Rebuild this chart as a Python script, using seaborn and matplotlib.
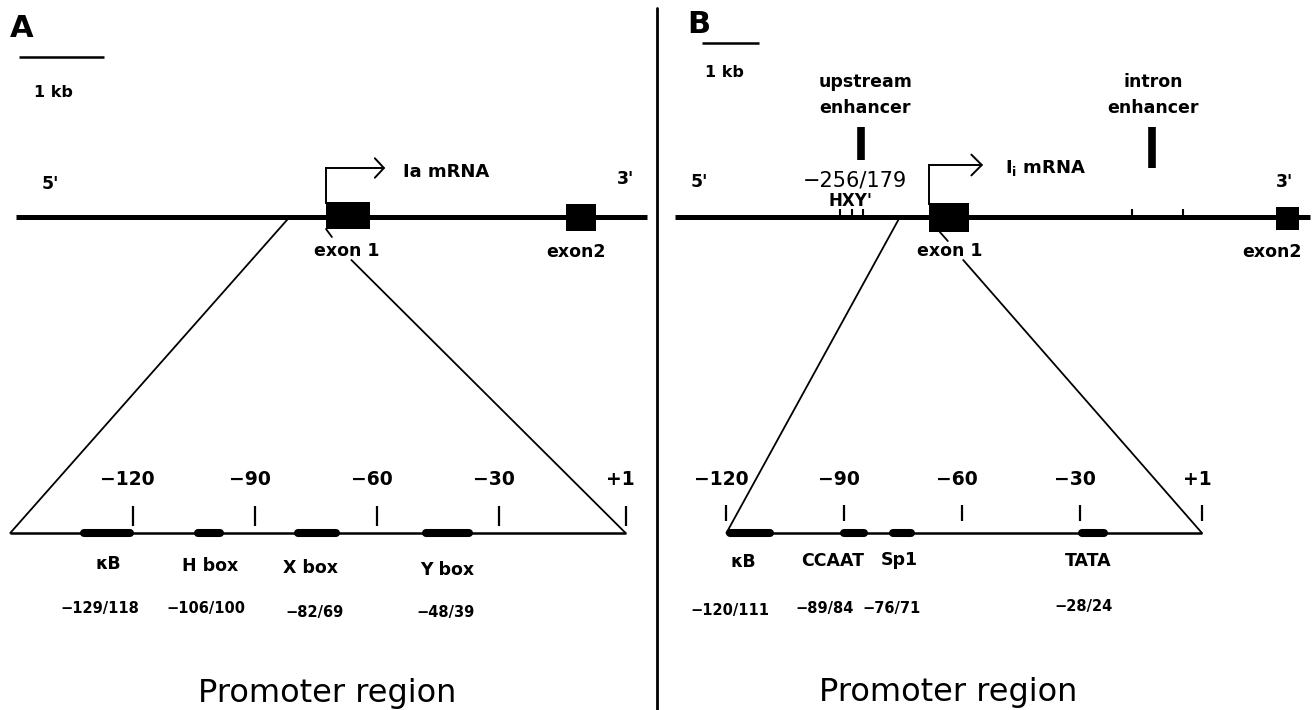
import numpy as np
import matplotlib
matplotlib.use("Agg")
import matplotlib.pyplot as plt
import seaborn as sns
from matplotlib.patches import ConnectionPatch
from matplotlib.transforms import offset_copy

# ======================= DATA =======================
# Panel A - Ia gene map (kb, relative to start of exon 1)
a_map_span = [-3.66, 3.80]
a_exon_labels = ["exon 1", "exon2"]
a_exon_start = [0.00, 2.84]
a_exon_end = [0.52, 3.19]
a_scalebar_kb = [-3.63, -2.63]
a_zoom_from = [-0.43, 0.30]
a_mrna_end = 0.70

# Panel A - promoter (bp)
a_prom_span = [-150, 1]
a_elem_names = ["κB", "H box", "X box", "Y box"]
a_elem_ranges = ["−129/118", "−106/100", "−82/69", "−48/39"]
a_elem_start = [-132.0, -104.0, -79.5, -48.0]
a_elem_end = [-120.5, -98.5, -70.0, -37.5]

# Panel B - Ii gene map (kb, relative to start of exon 1)
b_map_span = [-4.46, 6.68]
b_exon_labels = ["exon 1", "exon2"]
b_exon_start = [0.00, 6.09]
b_exon_end = [0.70, 6.49]
b_scalebar_kb = [-3.98, -2.98]
b_zoom_from = [-0.51, 0.60]
b_mrna_end = 0.95
b_enh_names = ["upstream\nenhancer", "intron\nenhancer"]
b_enh_pos = [-1.19, 3.92]
b_hxy_sites = [-1.56, -1.35, -1.16]
b_intron_sites = [3.56, 4.46]

# Panel B - promoter (bp)
b_prom_span = [-120, 1]
b_elem_names = ["κB", "CCAAT", "Sp1", "TATA"]
b_elem_ranges = ["−120/111", "−89/84", "−76/71", "−28/24"]
b_elem_start = [-119.0, -90.0, -77.5, -29.5]
b_elem_end = [-109.0, -85.0, -73.0, -24.0]

prom_ticks = [-120, -90, -60, -30, 1]
prom_tick_labels = ["−120", "−90", "−60", "−30", "+1"]

# ======================= STYLE / LAYOUT =======================
sns.set_theme(style="white")
plt.rcParams["font.family"] = ["DejaVu Sans"]
plt.rcParams["mathtext.fontset"] = "dejavusans"

W, H = 1312, 710
fig = plt.figure(figsize=(W / 100, H / 100), dpi=100)
fig.patch.set_facecolor("white")

canvas = fig.add_axes([0, 0, 1, 1])
canvas.set_xlim(0, W)
canvas.set_ylim(H, 0)
canvas.axis("off")


def panel_axes(px_left, px_right, origin_px, px_per_unit):
    ax = fig.add_axes([px_left / W, 0, (px_right - px_left) / W, 1])
    ax.set_xlim((px_left - origin_px) / px_per_unit,
                (px_right - origin_px) / px_per_unit)
    ax.set_ylim(H, 0)
    ax.axis("off")
    ax.patch.set_alpha(0)
    return ax


gA = panel_axes(0, 656, 326, 84.6)
pA = panel_axes(0, 656, 621.5, 4.075)
gB = panel_axes(660, 1312, 929, 57.0)
pB = panel_axes(660, 1312, 1198, 3.93)

K = "black"
BOLD = dict(color=K, fontweight="bold")


def shifted(ax, dx):
    return offset_copy(ax.transData, fig=fig, x=dx, y=0, units="dots")


def draw_map(ax, span, ex_s, ex_e, ex_top, ex_h, ex_lab, ex_dx, ex_base,
             scalebar, sb_y, mrna_end, arrow_y, arrow_head):
    ax.plot(span, [217, 217], color=K, lw=3.6, solid_capstyle="butt", zorder=2)
    widths = np.subtract(ex_e, ex_s)
    ax.bar(ex_s, ex_h, width=widths, bottom=ex_top, align="edge",
           color=K, linewidth=0, zorder=3)
    for s, e, lab, dx, base in zip(ex_s, ex_e, ex_lab, ex_dx, ex_base):
        ax.text((s + e) / 2, base, lab, ha="center", va="baseline",
                fontsize=12.5, transform=shifted(ax, dx), **BOLD)
    # scale bar
    ax.plot(scalebar, [sb_y, sb_y], color=K, lw=1.8, solid_capstyle="butt")
    # transcription start arrow
    ax.plot([ex_s[0], ex_s[0]], [ex_top[0] + 1, arrow_y], color=K, lw=1.4,
            solid_capstyle="projecting")
    ax.annotate("", xy=(mrna_end, arrow_y), xytext=(ex_s[0], arrow_y),
                arrowprops=dict(arrowstyle="->,head_length=%s,head_width=%s" % arrow_head,
                                lw=1.4, color=K, shrinkA=0, shrinkB=0,
                                mutation_scale=10))


def draw_promoter(ax, span, e_s, e_e, names, ranges, tick_y, lab_dx, rng_dx,
                  lab_base, rng_base):
    y = 533
    ax.plot(span, [y, y], color=K, lw=1.8, solid_capstyle="butt", zorder=2)
    for s, e in zip(e_s, e_e):
        ax.plot([s, e], [y, y], color=K, lw=5.8, solid_capstyle="round", zorder=3)
    ax.vlines(prom_ticks, tick_y[0], tick_y[1], color=K, lw=1.6)
    for t, lab in zip(prom_ticks, prom_tick_labels):
        ax.text(t, 485, lab, ha="center", va="baseline", fontsize=13.5,
                transform=shifted(ax, -5), **BOLD)
    for s, e, nm, rg, dx1, dx2, b1, b2 in zip(e_s, e_e, names, ranges,
                                              lab_dx, rng_dx, lab_base, rng_base):
        c = (s + e) / 2
        ax.text(c, b1, nm, ha="center", va="baseline", fontsize=12.5,
                transform=shifted(ax, dx1), **BOLD)
        ax.text(c, b2, rg, ha="center", va="baseline", fontsize=10.5,
                transform=shifted(ax, dx2), **BOLD)


# ---------------- Panel A ----------------
draw_map(gA, a_map_span, a_exon_start, a_exon_end, [202, 204], [27, 27],
         a_exon_labels, [-1, -5], [256, 257], a_scalebar_kb, 57,
         a_mrna_end, 168, ("0.65", "0.7"))
gA.plot([a_exon_start[0], a_exon_start[0] + 0.07], [229, 237], color=K, lw=1.3)
draw_promoter(pA, a_prom_span, a_elem_start, a_elem_end, a_elem_names,
              a_elem_ranges, (506, 526), [1.5, 1, -6, 0], [-7.5, -3, -2, -1.5],
              [569, 571, 573, 575], [613, 613, 617, 617])

# ---------------- Panel B ----------------
draw_map(gB, b_map_span, b_exon_start, b_exon_end, [203, 207], [29, 23],
         b_exon_labels, [1, -16], [256, 257], b_scalebar_kb, 43,
         b_mrna_end, 165, ("0.75", "0.75"))
gB.plot([0.19, 0.33], [232, 241], color=K, lw=1.3)
gB.vlines(b_enh_pos, [127, 127], [160, 168], color=K, lw=5.5)
gB.vlines(b_hxy_sites, 209, 217, color=K, lw=1.5)
gB.vlines(b_intron_sites, 209, 217, color=K, lw=1.5)
for pos, name, dx in zip(b_enh_pos, b_enh_names, [4, 1]):
    l1, l2 = name.split("\n")
    gB.text(pos, 87, l1, ha="center", va="baseline", fontsize=12.5,
            transform=shifted(gB, dx), **BOLD)
    gB.text(pos, 113, l2, ha="center", va="baseline", fontsize=12.5,
            transform=shifted(gB, dx), **BOLD)
draw_promoter(pB, b_prom_span, b_elem_start, b_elem_end, b_elem_names,
              b_elem_ranges, (505, 521), [-7, -21, -3, -5], [-20, -30, -11, -9],
              [567, 566, 565, 566], [615, 613, 613, 611])

# ---------------- zoom-out connector lines ----------------
for g, p, zf, ps, y_right in [(gA, pA, a_zoom_from, a_prom_span, 260),
                              (gB, pB, b_zoom_from, b_prom_span, 260)]:
    for xa, ya, xb in [(zf[0], 217, ps[0]), (zf[1], y_right, ps[1])]:
        con = ConnectionPatch(xyA=(xa, ya), coordsA=g.transData,
                              xyB=(xb, 533), coordsB=p.transData,
                              color=K, lw=1.3)
        fig.add_artist(con)

# ---------------- free text ----------------
canvas.plot([657, 657], [8, H], color=K, lw=2.0)
canvas.text(10, 37, "A", fontsize=22, ha="left", va="baseline", **BOLD)
canvas.text(687, 33, "B", fontsize=22, ha="left", va="baseline", **BOLD)
canvas.text(34, 97, "1 kb", fontsize=11.5, ha="left", va="baseline", **BOLD)
canvas.text(705, 77, "1 kb", fontsize=11.5, ha="left", va="baseline", **BOLD)
canvas.text(42, 189, "5'", fontsize=12.5, ha="left", va="baseline", **BOLD)
canvas.text(617, 184, "3'", fontsize=12.5, ha="left", va="baseline", **BOLD)
canvas.text(691, 187, "5'", fontsize=12.5, ha="left", va="baseline", **BOLD)
canvas.text(1276, 187, "3'", fontsize=12.5, ha="left", va="baseline", **BOLD)
canvas.text(403, 177, "Ia mRNA", fontsize=13, ha="left", va="baseline", **BOLD)
canvas.text(1005, 173, r"I$_{\mathbf{i}}$ mRNA", fontsize=13, ha="left",
            va="baseline", **BOLD)
canvas.text(855, 187, "−256/179", fontsize=15, ha="center", va="baseline",
            color=K)
canvas.text(851, 206, "HXY'", fontsize=12, ha="center", va="baseline", **BOLD)
canvas.text(327, 702, "Promoter region", fontsize=23, ha="center",
            va="baseline", color=K)
canvas.text(948, 701, "Promoter region", fontsize=23, ha="center",
            va="baseline", color=K)

fig.savefig("out.png", dpi=100, facecolor="white")
